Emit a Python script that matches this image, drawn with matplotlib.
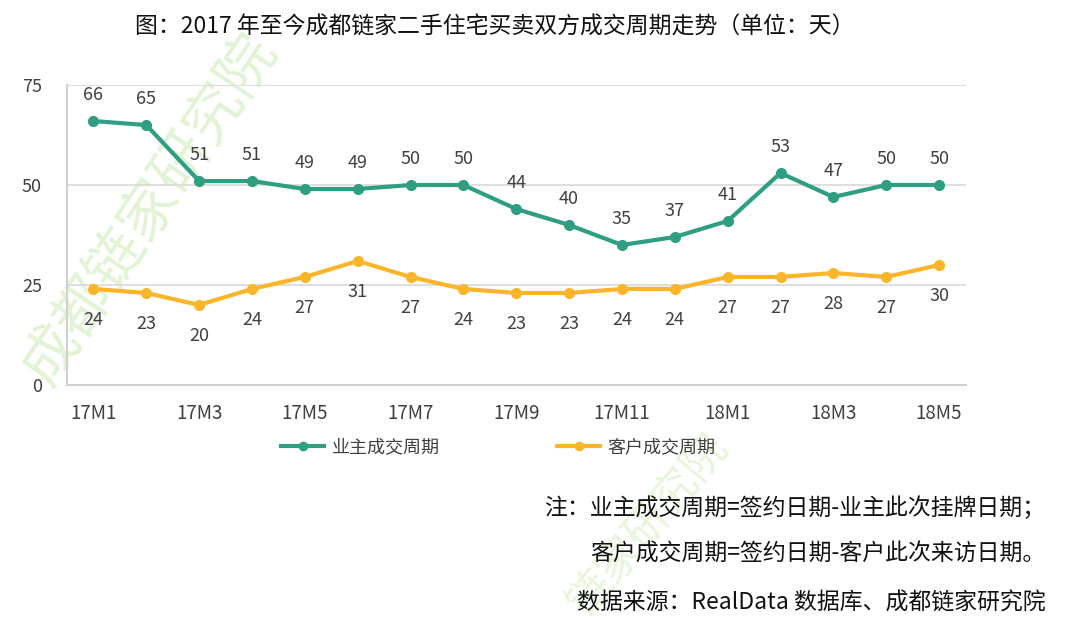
import matplotlib
matplotlib.use("Agg")
import matplotlib.pyplot as plt

plt.rcParams['font.family'] = ['Noto Sans CJK SC', 'DejaVu Sans']

months = ["17M1", "17M2", "17M3", "17M4", "17M5", "17M6", "17M7", "17M8", "17M9",
          "17M10", "17M11", "17M12", "18M1", "18M2", "18M3", "18M4", "18M5"]
owner_cycle = [66, 65, 51, 51, 49, 49, 50, 50, 44, 40, 35, 37, 41, 53, 47, 50, 50]
client_cycle = [24, 23, 20, 24, 27, 31, 27, 24, 23, 23, 24, 24, 27, 27, 28, 27, 30]
series_names = ["业主成交周期", "客户成交周期"]
yticks = [0, 25, 50, 75]

title = "图：2017 年至今成都链家二手住宅买卖双方成交周期走势（单位：天）"
notes = ["注：业主成交周期=签约日期-业主此次挂牌日期；",
         "客户成交周期=签约日期-客户此次来访日期。",
         "数据来源：RealData 数据库、成都链家研究院"]

green = "#2f9e83"
yellow = "#fbb52a"
txt = "#404040"

fig = plt.figure(figsize=(10.8, 6.3), dpi=100)

# watermark (drawn first, behind everything)
fig.text(0.139, 0.667, "成都链家研究院", rotation=56, fontsize=42, color="#e3f3d6",
         ha="center", va="center", zorder=-5)
fig.text(0.60, 0.167, "链家研究院", rotation=50, fontsize=32, color="#e8f6dd",
         ha="center", va="center", zorder=-5)

ax = fig.add_axes([0.062, 0.389, 0.832, 0.476])
ax.patch.set_alpha(0)
x = list(range(len(months)))

ax.plot(x, owner_cycle, color=green, lw=3, marker="o", ms=7, label=series_names[0], zorder=3)
ax.plot(x, client_cycle, color=yellow, lw=3, marker="o", ms=7, label=series_names[1], zorder=3)

for xi, v in zip(x, owner_cycle):
    ax.annotate(str(v), (xi, v), xytext=(0, 12), textcoords="offset points",
                ha="center", va="bottom", fontsize=13, color=txt)
for xi, v in zip(x, client_cycle):
    ax.annotate(str(v), (xi, v), xytext=(0, -16), textcoords="offset points",
                ha="center", va="top", fontsize=13, color=txt)

ax.set_xlim(-0.5, len(months) - 0.5)
ax.set_ylim(0, 75)
ax.set_yticks(yticks)
ax.set_yticklabels([str(t) for t in yticks], fontsize=13, color=txt)
ax.set_xticks(x[::2])
ax.set_xticklabels(months[::2], fontsize=13.5, color=txt)
ax.tick_params(axis="both", length=0)
ax.tick_params(axis="y", pad=18)
ax.tick_params(axis="x", pad=13)
ax.grid(axis="y", color="#d9d9d9", lw=1.2)
ax.set_axisbelow(True)
for s in ["top", "right"]:
    ax.spines[s].set_visible(False)
for s in ["left", "bottom"]:
    ax.spines[s].set_color("#d0d0d0")
    ax.spines[s].set_linewidth(1.5)

leg = ax.legend(loc="upper center", bbox_to_anchor=(0.48, -0.125), ncol=2, frameon=False,
                fontsize=13, handlelength=2.4, columnspacing=6.5, handletextpad=0.4,
                labelcolor=txt, markerscale=0.85)

fig.text(0.458, 0.957, title, ha="center", va="center", fontsize=16.5, color="#111111")
fig.text(0.968, 0.193, notes[0], ha="right", va="center", fontsize=16.5, color="#111111")
fig.text(0.968, 0.121, notes[1], ha="right", va="center", fontsize=16.5, color="#111111")
fig.text(0.968, 0.043, notes[2], ha="right", va="center", fontsize=16.5, color="#111111")

fig.savefig("out.png", dpi=100)
